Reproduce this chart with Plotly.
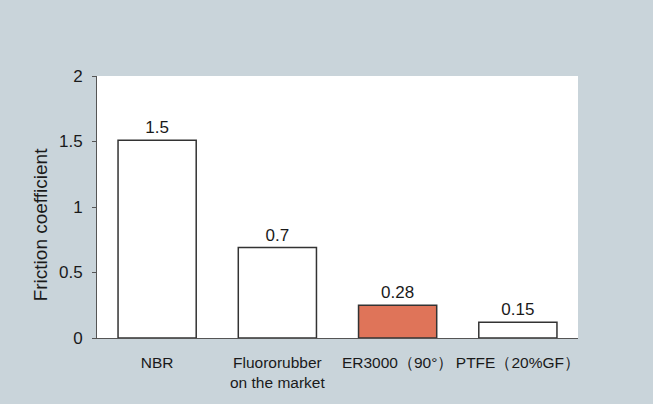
import plotly.graph_objects as go

categories = ["NBR", "Fluororubber<br>on the market", "ER3000（90°）", "PTFE（20%GF）"]
bar_values = [1.51, 0.69, 0.25, 0.12]
value_labels = ["1.5", "0.7", "0.28", "0.15"]
fill_colors = ["#ffffff", "#ffffff", "#df7459", "#ffffff"]
y_ticks = [0, 0.5, 1, 1.5, 2]
y_tick_labels = ["0", "0.5", "1", "1.5", "2"]
y_title = "Friction coefficient"

FONT = "Liberation Sans, Arial, Helvetica, sans-serif"

fig = go.Figure()
fig.add_trace(go.Bar(
    x=categories,
    y=bar_values,
    width=0.65,
    marker=dict(color=fill_colors, line=dict(color="#333333", width=1.5)),
    text=value_labels,
    textposition="outside",
    textfont=dict(size=17, color="#1a1a1a", family=FONT),
    cliponaxis=False,
    hoverinfo="skip",
))

fig.update_layout(
    width=653, height=404,
    margin=dict(l=97, r=75, t=76, b=66),
    paper_bgcolor="#c9d4da",
    plot_bgcolor="#ffffff",
    showlegend=False,
    font=dict(family=FONT, color="#1a1a1a"),
    bargap=0.35,
)
fig.add_annotation(
    text=y_title, textangle=-90,
    xref="paper", x=0, xanchor="center", xshift=-57,
    yref="paper", y=0.43, yanchor="middle",
    showarrow=False,
    font=dict(size=19, family=FONT, color="#1a1a1a"),
)
fig.update_xaxes(
    showline=True, linecolor="#555555", linewidth=1,
    ticks="", showgrid=False, zeroline=False,
    tickfont=dict(size=15.5, family=FONT, color="#1a1a1a"),
    ticklabelstandoff=10,
    range=[-0.5, 3.5],
    automargin=False,
)
fig.update_yaxes(
    range=[0, 2], tickvals=y_ticks, ticktext=y_tick_labels,
    showline=True, linecolor="#555555", linewidth=1,
    ticks="outside", ticklen=4, tickcolor="#555555",
    showgrid=False, zeroline=False,
    tickfont=dict(size=17, family=FONT, color="#1a1a1a"),
    ticklabelstandoff=6,
    automargin=False,
)

fig.write_html(
    "out.html",
    config={"displayModeBar": False},
    post_script="document.body.style.margin='0px';document.body.style.padding='0px';",
)
